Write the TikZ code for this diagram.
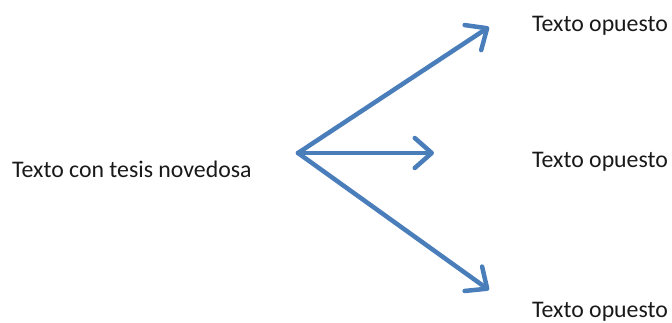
\documentclass[tikz,border=0pt]{standalone}
\usepackage{fontspec}
\setmainfont{Carlito}
\usetikzlibrary{arrows.meta}
\definecolor{arrowblue}{HTML}{4A7EBB}
\begin{document}
\begin{tikzpicture}[x=1pt,y=1pt,
  label text/.style={inner sep=0pt, font=\fontsize{23.8}{27}\selectfont, text=black!90},
  branch/.style={draw=arrowblue, line width=4.5pt, line cap=round, line join=round,
    -{Straight Barb[length=17pt,width=30pt,line cap=round,line join=round]}}]
\useasboundingbox (0,0) rectangle (672,322);
\node[label text, anchor=base west] (src) at (12,145) {Texto con tesis novedosa};
\node[label text, anchor=base west] (opA) at (532,290) {Texto opuesto};
\node[label text, anchor=base west] (opB) at (532,155) {Texto opuesto};
\node[label text, anchor=base west] (opC) at (532,5) {Texto opuesto};
\coordinate (o) at (298,169);
\coordinate (tA) at (489,295);
\coordinate (tB) at (434,169);
\coordinate (tC) at (489,32);
\draw[branch] (o) -- (tA);
\draw[branch] (o) -- (tB);
\draw[branch] (o) -- (tC);
\end{tikzpicture}
\end{document}
